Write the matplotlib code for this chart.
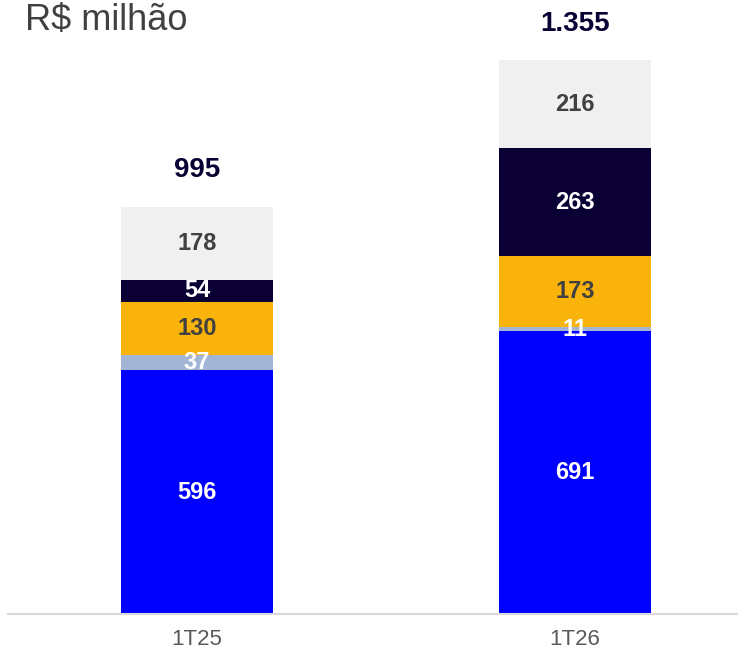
import numpy as np
import matplotlib.pyplot as plt

plt.rcParams['font.family'] = ['Liberation Sans', 'DejaVu Sans']

categories = ['1T25', '1T26']
seg_a = [596, 691]
seg_b = [37, 11]
seg_c = [130, 173]
seg_d = [54, 263]
seg_e = [178, 216]
totals = ['995', '1.355']

series = [seg_a, seg_b, seg_c, seg_d, seg_e]
colors = ['#0000FF', '#A3B5D5', '#F9B30A', '#0A0033', '#F0F0F0']
text_colors = ['white', 'white', '#404040', 'white', '#404040']

fig = plt.figure(figsize=(7.38, 6.52), dpi=100)
ax = fig.add_axes([8 / 738, 38 / 652, 730 / 738, 614 / 652])

x = np.arange(len(categories))
bottom = np.zeros(len(categories))
for vals, col, tcol in zip(series, colors, text_colors):
    vals = np.array(vals)
    ax.bar(x, vals, width=0.4, bottom=bottom, color=col)
    for xi, b, v in zip(x, bottom, vals):
        ax.text(xi, b + v / 2, str(v), ha='center', va='center',
                color=tcol, fontsize=17, fontweight='bold')
    bottom = bottom + vals

for xi, top, lab in zip(x, bottom, totals):
    ax.annotate(lab, (xi, top), xytext=(0, 17), textcoords='offset points',
                ha='center', va='bottom', color='#0A0033',
                fontsize=20, fontweight='bold')

ax.set_xlim(-0.5, 1.431)
ax.set_ylim(0, 1501)
ax.set_xticks(x)
ax.set_xticklabels(categories, fontsize=16, color='#595959')
ax.tick_params(axis='x', length=0, pad=11)
ax.set_yticks([])
for s in ['top', 'right', 'left']:
    ax.spines[s].set_visible(False)
ax.spines['bottom'].set_color('#D9D9D9')
ax.spines['bottom'].set_linewidth(1.5)

fig.text(25 / 738, 1 - 21 / 652, 'R$ milhão', fontsize=26, color='#404040',
         ha='left', va='center')

fig.savefig('out.png', dpi=100)
